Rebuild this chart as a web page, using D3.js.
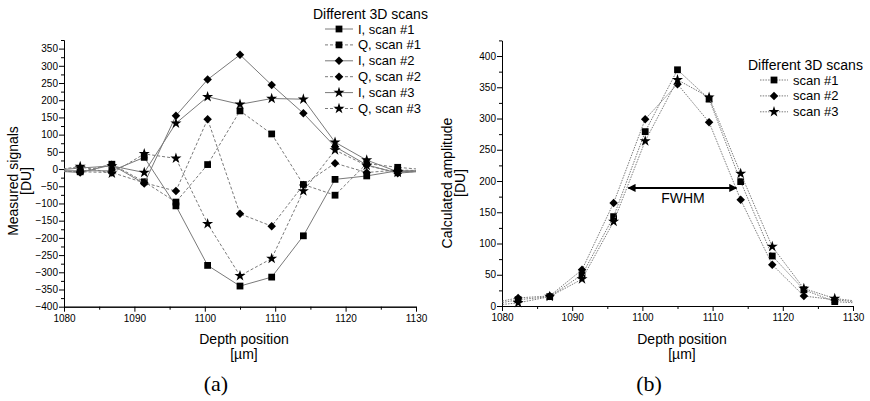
<!DOCTYPE html>
<html>
<head>
<meta charset="utf-8">
<script src="https://cdn.jsdelivr.net/npm/d3@7/dist/d3.min.js"></script>
<style>
  html, body { margin: 0; padding: 0; background: #fff; }
  svg { display: block; font-family: "Liberation Sans", Arial, sans-serif; }
</style>
</head>
<body>
<svg id="fig" width="870" height="401"></svg>
<script>
// Depth positions of the scan samples [µm]; first and last lie just outside the axis range
const depth = [1077.8, 1082.3, 1086.8, 1091.4, 1095.9, 1100.4, 1105.0, 1109.5, 1114.0, 1118.5, 1123.0, 1127.4, 1131.9];

// (a) Measured I / Q signals [DU]
const iScan1 = [-5, -5, -5, 34, -107, -280, -340, -314, -194, -30, -20, -5, -5];
const qScan1 = [-5, -8, 14, -37, -96, 13, 169, 102, -45, -76, 16, 5, -3];
const iScan2 = [-5, -10, 12, -42, 155, 260, 332, 244, 162, 65, 12, -12, -5];
const qScan2 = [-5, -8, -10, -40, -64, 145, -130, -166, -46, 17, -10, -3, -5];
const iScan3 = [-5, 3, 9, -10, 133, 210, 188, 205, 203, 78, 26, -8, -5];
const qScan3 = [-5, 7, -12, 44, 31, -159, -310, -260, -64, 55, 10, -10, -5];

// (b) Calculated amplitude [DU]
const ampScan1 = [1, 10, 15, 50, 143, 279, 378, 331, 199, 80, 26, 7, 4];
const ampScan2 = [3, 13, 16, 58, 165, 299, 355, 294, 170, 66, 16, 10, 5];
const ampScan3 = [0, 5, 15, 43, 135, 264, 362, 334, 212, 95, 28, 12, 6];

// Axis tick values
const xMajor = [1080, 1090, 1100, 1110, 1120, 1130];
const xMinor = [1085, 1095, 1105, 1115, 1125];
const yMajorA = d3.range(-400, 351, 50);
const yMinorA = d3.range(-375, 376, 50);
const yMajorB = d3.range(0, 401, 50);
const yMinorB = d3.range(25, 426, 50);

// FWHM marker of the amplitude profile
const fwhmStart = 1098.0, fwhmEnd = 1113.4, fwhmLevel = 189;

const legendTitle = "Different 3D scans";
const legendA = ["I, scan #1", "Q, scan #1", "I, scan #2", "Q, scan #2", "I, scan #3", "Q, scan #3"];
const legendB = ["scan #1", "scan #2", "scan #3"];

const svg = d3.select("#fig");
const lineGrey = "#7a7a7a";

const shapes = {
  square: d3.symbol().type(d3.symbolSquare).size(46),
  diamond: d3.symbol().type(d3.symbolSquare).size(36),
  star: d3.symbol().type(d3.symbolStar).size(38)
};
function marker(sel, shape) {
  sel.attr("d", shapes[shape]())
     .attr("fill", "#000");
  if (shape === "diamond") {
    sel.attr("transform", function() {
      return d3.select(this).attr("transform") + " rotate(45)";
    });
  }
}

function axes(x, y, yMajor, yMinor) {
  const g = svg.append("g");
  const [y0] = y.range();
  const [x0] = x.range();
  g.append("g").attr("transform", `translate(0,${y0})`)
    .call(d3.axisBottom(x).tickValues(xMinor).tickSize(3).tickSizeOuter(0).tickFormat(""));
  g.append("g").attr("transform", `translate(0,${y0})`).attr("font-size", 10.8)
    .call(d3.axisBottom(x).tickValues(xMajor).tickSize(5).tickSizeOuter(0).tickPadding(3).tickFormat(d3.format("d")));
  g.append("g").attr("transform", `translate(${x0},0)`)
    .call(d3.axisLeft(y).tickValues(yMinor).tickSize(3).tickSizeOuter(0).tickFormat(""));
  g.append("g").attr("transform", `translate(${x0},0)`).attr("font-size", 11.8)
    .call(d3.axisLeft(y).tickValues(yMajor).tickSize(5).tickSizeOuter(0).tickPadding(1).tickFormat(d3.format("d")));
  g.selectAll("text").attr("fill", "#000").attr("font-family", "Liberation Sans, Arial, sans-serif");
  g.selectAll("path, line").attr("stroke", "#000");
}

function series(x, y, clipId, values, shape, dash) {
  const pts = depth.map((d, i) => [d, values[i]]);
  const g = svg.append("g").attr("clip-path", `url(#${clipId})`);
  g.append("path")
    .attr("d", d3.line().x(d => x(d[0])).y(d => y(d[1]))(pts))
    .attr("fill", "none")
    .attr("stroke", lineGrey)
    .attr("stroke-width", 1)
    .attr("stroke-dasharray", dash);
  g.selectAll(null).data(pts).join("path")
    .attr("transform", d => `translate(${x(d[0])},${y(d[1])})`)
    .call(marker, shape);
}

function clip(id, x) {
  const [a, b] = x.range();
  svg.append("clipPath").attr("id", id)
    .append("rect").attr("x", a).attr("y", 0).attr("width", b - a).attr("height", 401);
}

function legend(x0, yTitle, yFirst, step, labels, specs) {
  const g = svg.append("g").attr("font-size", 13);
  g.append("text").attr("x", x0 - 12).attr("y", yTitle).attr("font-size", 14).text(legendTitle);
  labels.forEach((lab, i) => {
    const yy = yFirst + i * step;
    g.append("line").attr("x1", x0).attr("x2", x0 + 28).attr("y1", yy).attr("y2", yy)
      .attr("stroke", lineGrey).attr("stroke-dasharray", specs[i].dash);
    g.append("path").attr("transform", `translate(${x0 + 14},${yy})`).call(marker, specs[i].shape);
    g.append("text").attr("x", x0 + 33).attr("y", yy + 4.5).text(lab);
  });
}

// ---------- (a) measured signals ----------
const xA = d3.scaleLinear([1080, 1130], [64, 416]);
const yA = d3.scaleLinear([-400, 375], [306.7, 40]);
clip("clipA", xA);
axes(xA, yA, yMajorA, yMinorA);

const solid = null, dashed = "3,2", dotted = "1.5,1.2";
const specsA = [
  { v: iScan1, shape: "square", dash: solid },
  { v: qScan1, shape: "square", dash: dashed },
  { v: iScan2, shape: "diamond", dash: solid },
  { v: qScan2, shape: "diamond", dash: dashed },
  { v: iScan3, shape: "star", dash: solid },
  { v: qScan3, shape: "star", dash: dashed }
];
specsA.forEach(s => series(xA, yA, "clipA", s.v, s.shape, s.dash));
legend(325, 19, 29, 15.9, legendA, specsA);

svg.append("text").attr("transform", "translate(18,181) rotate(-90)")
  .attr("text-anchor", "middle").attr("font-size", 14).text("Measured signals");
svg.append("text").attr("transform", "translate(31,181) rotate(-90)")
  .attr("text-anchor", "middle").attr("font-size", 14).text("[DU]");
svg.append("text").attr("x", 244).attr("y", 344).attr("text-anchor", "middle").attr("font-size", 14).text("Depth position");
svg.append("text").attr("x", 244).attr("y", 359).attr("text-anchor", "middle").attr("font-size", 14).text("[µm]");
svg.append("text").attr("x", 216).attr("y", 391).attr("text-anchor", "middle")
  .attr("font-family", "Liberation Serif, serif").attr("font-size", 22).text("(a)");

// ---------- (b) calculated amplitude ----------
const xB = d3.scaleLinear([1080, 1130], [502, 853]);
const yB = d3.scaleLinear([0, 425], [306, 40.4]);
clip("clipB", xB);
axes(xB, yB, yMajorB, yMinorB);

const specsB = [
  { v: ampScan1, shape: "square", dash: dotted },
  { v: ampScan2, shape: "diamond", dash: dotted },
  { v: ampScan3, shape: "star", dash: dotted }
];
specsB.forEach(s => series(xB, yB, "clipB", s.v, s.shape, s.dash));
legend(760, 70, 80, 15.9, legendB, specsB);

// FWHM double arrow
const defs = svg.append("defs");
defs.append("marker").attr("id", "arrowHead").attr("viewBox", "0 0 10 10")
  .attr("refX", 9).attr("refY", 5).attr("markerWidth", 5).attr("markerHeight", 4)
  .attr("markerUnits", "strokeWidth").attr("orient", "auto-start-reverse")
  .append("path").attr("d", "M0,0 L10,5 L0,10 Z").attr("fill", "#000");
svg.append("line")
  .attr("x1", xB(fwhmStart)).attr("x2", xB(fwhmEnd))
  .attr("y1", yB(fwhmLevel)).attr("y2", yB(fwhmLevel))
  .attr("stroke", "#000").attr("stroke-width", 2)
  .attr("marker-start", "url(#arrowHead)").attr("marker-end", "url(#arrowHead)");
svg.append("text").attr("x", 683).attr("y", 203).attr("text-anchor", "middle").attr("font-size", 14).text("FWHM");

svg.append("text").attr("transform", "translate(452,183) rotate(-90)")
  .attr("text-anchor", "middle").attr("font-size", 14).text("Calculated amplitude");
svg.append("text").attr("transform", "translate(465,183) rotate(-90)")
  .attr("text-anchor", "middle").attr("font-size", 14).text("[DU]");
svg.append("text").attr("x", 682).attr("y", 344).attr("text-anchor", "middle").attr("font-size", 14).text("Depth position");
svg.append("text").attr("x", 682).attr("y", 359).attr("text-anchor", "middle").attr("font-size", 14).text("[µm]");
svg.append("text").attr("x", 649).attr("y", 391).attr("text-anchor", "middle")
  .attr("font-family", "Liberation Serif, serif").attr("font-size", 22).text("(b)");
</script>
</body>
</html>
